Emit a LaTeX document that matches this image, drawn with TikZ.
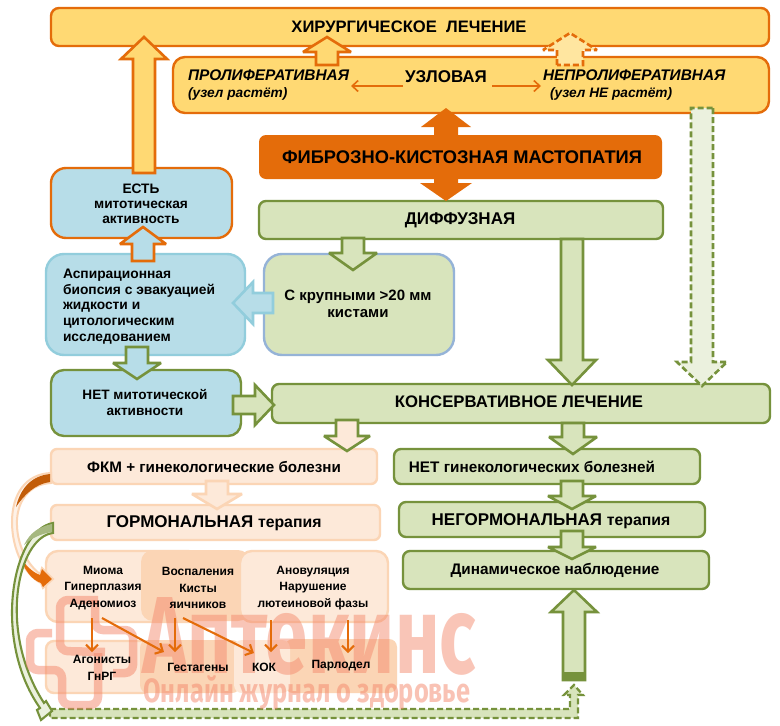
\documentclass[tikz,border=0pt]{standalone}
\usepackage{fontspec}
\setmainfont{Liberation Sans}
\newfontfamily\wmfont{Fira Sans}
\usetikzlibrary{calc,arrows.meta}
\definecolor{orB}{HTML}{E46C0A}
\definecolor{yelF}{HTML}{FFD973}
\definecolor{yelL}{HTML}{FFE6A0}
\definecolor{grnB}{HTML}{76923C}
\definecolor{grnF}{HTML}{D8E4BC}
\definecolor{grnL}{HTML}{EBF1DE}
\definecolor{bluF}{HTML}{B7DDE8}
\definecolor{bluB}{HTML}{92CDDC}
\definecolor{bluE}{HTML}{95B3D7}
\definecolor{pchF}{HTML}{FDE9D9}
\definecolor{pchD}{HTML}{FBD5B5}
\definecolor{wmC}{HTML}{F4876A}
\newcommand\bx[7]{\node[#2,minimum width={(#5)-(#3)},minimum height={(#6)-(#4)}] (#1) at ({(#3+#5)/2},{(#4+#6)/2}) {#7};}
\newcommand\barrow[6]{%
 \coordinate (hb) at ($(#3)!#6pt!(#2)$);
 \draw[#1] ($(#2)!#4pt!90:(#3)$) -- ($(hb)!#4pt!90:(#3)$) -- ($(hb)!#5pt!90:(#3)$) -- (#3) -- ($(hb)!#5pt!-90:(#3)$) -- ($(hb)!#4pt!-90:(#3)$) -- ($(#2)!#4pt!-90:(#3)$) -- cycle;}
\newcommand\fs[2]{\fontsize{#1}{#2}\selectfont}
\tikzset{
 x=1pt,y=-1pt,
 base/.style={rectangle,inner sep=0pt,outer sep=0pt,line width=2.4pt,align=center,font=\bfseries\fs{13}{16},text=black},
 yelbox/.style={base,draw=orB,fill=yelF},
 grnbox/.style={base,draw=grnB,fill=grnF,rounded corners=7pt},
 pchbox/.style={base,draw=pchD,fill=pchF,rounded corners=6pt},
 label/.style={inner sep=0pt,outer sep=0pt,align=center,font=\bfseries\fs{13}{16},text=black},
 small/.style={label,font=\bfseries\fs{12}{16.3}},
 ital/.style={inner sep=0pt,outer sep=0pt,align=left,font=\bfseries\itshape\fs{15.4}{17},text=black},
 thin/.style={draw=orB,line width=2.1pt,-{Straight Barb[length=6pt,width=12pt,line width=2.1pt]}},
 thinner/.style={draw=orB,line width=1.6pt,-{Straight Barb[length=6pt,width=11pt,line width=1.6pt]}},
 aO/.style={draw=orB,fill=yelF,line width=2.6pt,miter limit=3},
 aG/.style={draw=grnB,fill=grnF,line width=2.6pt,miter limit=3},
 aP/.style={draw=pchD,fill=pchF,line width=2.6pt,miter limit=3},
 wm/.style={draw=wmC,line width=8.5pt,opacity=.5,rounded corners=8pt}
}
\begin{document}
\begin{tikzpicture}
\useasboundingbox[fill=white] (0,0) rectangle (780,726);
% main boxes
\bx{hir}{yelbox,rounded corners=8pt}{51}{8}{769}{46}{}
\bx{uzl}{yelbox,rounded corners=12pt}{173}{57}{769}{113}{}
\bx{fib}{base,fill=orB,rounded corners=7pt}{259}{135}{662}{179}{}
\bx{dif}{grnbox}{259}{201}{663}{239}{}
\bx{est}{yelbox,fill=bluF,rounded corners=15pt}{51}{168}{232}{238}{}
\bx{asp}{base,draw=bluB,fill=bluF,rounded corners=18pt}{46}{254}{245}{355}{}
\bx{kis}{base,draw=bluE,fill=grnF,rounded corners=18pt}{264}{254}{454}{355}{}
\bx{net}{base,draw=grnB,fill=bluF,rounded corners=13pt}{51}{370}{241}{436}{}
\bx{kon}{grnbox}{272}{384}{770}{423}{}
\bx{fkm}{pchbox}{51}{449}{377}{484}{}
\bx{gor}{pchbox}{51}{505}{380}{540}{}
\bx{ngin}{grnbox}{394}{449}{700}{484}{}
\bx{nego}{grnbox}{399}{502}{705}{537}{}
\bx{din}{grnbox}{403}{551}{709}{589}{}
% therapy panels
\bx{p1}{pchbox,rounded corners=12pt}{46}{551}{200}{622}{}
\bx{p2}{base,fill=pchD,rounded corners=12pt}{141}{550}{250}{621}{}
\bx{p3}{pchbox,rounded corners=12pt}{240}{551}{388}{622}{}
\bx{q1}{pchbox,rounded corners=8pt}{46}{641}{150}{693}{}
\bx{q2}{base,fill=pchD,rounded corners=8pt}{140}{640}{240}{693}{}
\bx{q4}{base,fill=pchD,rounded corners=8pt}{285}{639}{397}{693}{}
\bx{q3}{base,fill=pchF,rounded corners=8pt}{234}{640}{290}{693}{}
% block arrows
\coordinate (a1) at (144,173); \coordinate (a2) at (144,37);
\barrow{aO}{a1}{a2}{11}{23}{22}
\coordinate (b1) at (327,65); \coordinate (b2) at (327,37);
\barrow{aO}{b1}{b2}{11}{24}{15}
\coordinate (c1) at (570,65); \coordinate (c2) at (570,33);
\barrow{aO,fill=yelL,dashed,dash pattern=on 6pt off 3pt}{c1}{c2}{13}{27}{17}
\coordinate (d1) at (446,140); \coordinate (d2) at (446,108);
\barrow{fill=orB,draw=none}{d1}{d2}{12}{25}{19}
\coordinate (e1) at (446,175); \coordinate (e2) at (446,201);
\barrow{fill=orB,draw=none}{e1}{e2}{12}{26}{18}
\coordinate (f1) at (702,108); \coordinate (f2) at (702,386);
\barrow{aG,fill=grnL,dashed,dash pattern=on 6pt off 3pt}{f1}{f2}{11}{25}{24}
\coordinate (g1) at (572,239); \coordinate (g2) at (572,385);
\barrow{aG}{g1}{g2}{11}{24}{25}
\coordinate (h1) at (353,238); \coordinate (h2) at (353,270);
\barrow{aG}{h1}{h2}{11}{24}{17}
\coordinate (i1) at (273,303); \coordinate (i2) at (233,303);
\barrow{aG,draw=bluB,fill=bluF}{i1}{i2}{10}{21}{20}
\coordinate (j1) at (143,261); \coordinate (j2) at (143,227);
\barrow{aO,fill=bluF}{j1}{j2}{11}{23}{17}
\coordinate (k1) at (137,347); \coordinate (k2) at (137,379);
\barrow{aG,fill=bluF}{k1}{k2}{11}{24}{16}
\coordinate (l1) at (233,405); \coordinate (l2) at (274,405);
\barrow{aG}{l1}{l2}{9}{20}{19}
\coordinate (m1) at (347,420); \coordinate (m2) at (347,451);
\barrow{aG,fill=pchF}{m1}{m2}{11}{23}{15}
\coordinate (n1) at (573,423); \coordinate (n2) at (573,454);
\barrow{aG}{n1}{n2}{11}{24}{17}
\coordinate (o1) at (217,481); \coordinate (o2) at (217,509);
\barrow{aP}{o1}{o2}{11}{25}{15}
\coordinate (r1) at (572,481); \coordinate (r2) at (572,509);
\barrow{aG}{r1}{r2}{11}{24}{13}
\coordinate (s1) at (572,531); \coordinate (s2) at (572,559);
\barrow{aG}{s1}{s2}{11}{24}{12}
\coordinate (t1) at (574,680); \coordinate (t2) at (574,590);
\barrow{aG}{t1}{t2}{11}{23}{22}
\fill[grnB] (562.8,672) rectangle (585.2,681);
% dashed return arrow along the bottom
\draw[aG,fill=grnF,line width=2.2pt,dashed,dash pattern=on 6pt off 3pt]
 (50,709) -- (570,709) -- (570,695) -- (564,695) -- (574,685) -- (583,695) -- (578,695) -- (578,718) -- (50,718) -- cycle;
% curved arrows
\draw[draw=pchD,fill=pchF!60,line width=2pt,line join=miter]
 (51,473) .. controls (25,474) and (12,495) .. (12,522) .. controls (12,550) and (25,575) .. (41,583)
 -- (43,588) -- (53,579) -- (42,568) -- (40,574) .. controls (28,565) and (16,545) .. (17,520) .. controls (18,500) and (30,484) .. (51,483) -- cycle;
\fill[orB!85!black] (50,474) .. controls (30,476) and (20,490) .. (16,507) .. controls (24,495) and (35,484) .. (50,482) -- cycle;
\fill[orB] (20,556) .. controls (25,565) and (32,572) .. (40,575) -- (42,569) -- (52,579) -- (43,587) -- (41,583) .. controls (32,580) and (24,570) .. (20,556) -- cycle;
\draw[draw=grnB,fill=grnL,line width=2.1pt,line join=miter]
 (53,523) .. controls (12,530) and (-8,640) .. (40,708) -- (37,710) -- (41,720) -- (52,711) -- (46,701) -- (44,703)
 .. controls (-3,630) and (18,537) .. (53,533) -- cycle;
\fill[grnB!65] (52,524) .. controls (38,527) and (30,533) .. (24,545) .. controls (32,538) and (40,534) .. (52,532) -- cycle;
% watermark
\draw[wm] (98,600) -- (60,600) -- (60,651) -- (105,652);
\draw[wm] (95,600) -- (95,630) -- (133,630) -- (133,673) -- (113,673);
\draw[wm] (52,633) -- (30,633) -- (30,670) -- (62,670) -- (62,705) -- (98,705) -- (98,653);
\node[anchor=base west,inner sep=0pt,text=wmC,opacity=.48,font=\wmfont\bfseries] (wm1) at (142,673) {\resizebox{334pt}{76pt}{Аптекинс}};
\node[anchor=base west,inner sep=0pt,text=wmC,opacity=.5,font=\wmfont\bfseries] (wm2) at (143,702) {\resizebox{327pt}{27pt}{Онлайн журнал о здоровье}};
% labels
\node[label,font=\bfseries\fs{16.6}{16}] (thir) at (409,27) {ХИРУРГИЧЕСКОЕ\ \ ЛЕЧЕНИЕ};
\node[ital,anchor=north west] (tpro) at (188,70) {ПРОЛИФЕРАТИВНАЯ\\{\fs{13.7}{17}(узел растёт)}};
\node[label,font=\bfseries\fs{17}{16}] (tuz) at (446,77) {УЗЛОВАЯ};
\node[ital,anchor=north west] (tnep) at (543,70) {НЕПРОЛИФЕРАТИВНАЯ\\\hspace*{7pt}{\fs{13.7}{17}(узел НЕ растёт)}};
\coordinate (u1) at (403,86); \coordinate (u2) at (351,86);
\coordinate (u3) at (492,86); \coordinate (u4) at (541,86);
\draw[thinner] (u1) -- (u2);
\draw[thinner] (u3) -- (u4);
\node[label,font=\bfseries\fs{18.3}{16}] (tfib) at (462,157) {ФИБРОЗНО-КИСТОЗНАЯ МАСТОПАТИЯ};
\node[label,font=\bfseries\fs{17}{16}] (tdif) at (460,220) {ДИФФУЗНАЯ};
\node[label,font=\bfseries\fs{13.7}{15}] (test) at (141,204) {ЕСТЬ\\митотическая\\активность};
\node[label,align=left,anchor=north west,font=\bfseries\fs{13.8}{15.7}] (tasp) at (63,269) {Аспирационная\\биопсия с эвакуацией\\жидкости и\\цитологическим\\исследованием};
\node[label,font=\bfseries\fs{15}{17}] (tkis) at (358,304) {С крупными >20 мм\\кистами};
\node[label,font=\bfseries\fs{13.6}{16}] (tnet) at (145,403) {НЕТ митотической\\активности};
\node[label,font=\bfseries\fs{16.7}{16}] (tkon) at (519,402) {КОНСЕРВАТИВНОЕ ЛЕЧЕНИЕ};
\node[label,font=\bfseries\fs{15.2}{16}] (tfkm) at (214,467) {ФКМ + гинекологические болезни};
\node[label,font=\bfseries\fs{17}{16}] (tgor) at (214,523) {ГОРМОНАЛЬНАЯ {\fs{15.8}{16}терапия}};
\node[label,font=\bfseries\fs{15.3}{16}] (tngin) at (532,467) {НЕТ гинекологических болезней};
\node[label,font=\bfseries\fs{17}{16}] (tnego) at (551,521) {НЕГОРМОНАЛЬНАЯ {\fs{15.8}{16}терапия}};
\node[label,font=\bfseries\fs{15.3}{16}] (tdin) at (555,570) {Динамическое наблюдение};
\node[small] (tmi) at (103,588) {Миома\\Гиперплазия\\Аденомиоз};
\node[small] (tvo) at (198,588) {Воспаления\\Кисты\\яичников};
\node[small] (tan) at (313,588) {Ановуляция\\Нарушение\\лютеиновой фазы};
\node[small] (tag) at (102,668) {Агонисты\\ГнРГ};
\node[small] (tge) at (198,667) {Гестагены};
\node[small] (tko) at (264,667) {КОК};
\node[small] (tpa) at (341,666) {Парлодел};
% thin therapy arrows
\coordinate (v1) at (92,618); \coordinate (v2) at (92,652);
\coordinate (v3) at (102,618); \coordinate (v4) at (164,652);
\coordinate (v5) at (175,618); \coordinate (v6) at (175,652);
\coordinate (v7) at (183,618); \coordinate (v8) at (254,653);
\coordinate (v9) at (271,620); \coordinate (v10) at (271,652);
\coordinate (v11) at (348,620); \coordinate (v12) at (348,653);
\draw[thin] (v1) -- (v2);
\draw[thin] (v3) -- (v4);
\draw[thin] (v5) -- (v6);
\draw[thin] (v7) -- (v8);
\draw[thin] (v9) -- (v10);
\draw[thin] (v11) -- (v12);
\end{tikzpicture}
\end{document}
